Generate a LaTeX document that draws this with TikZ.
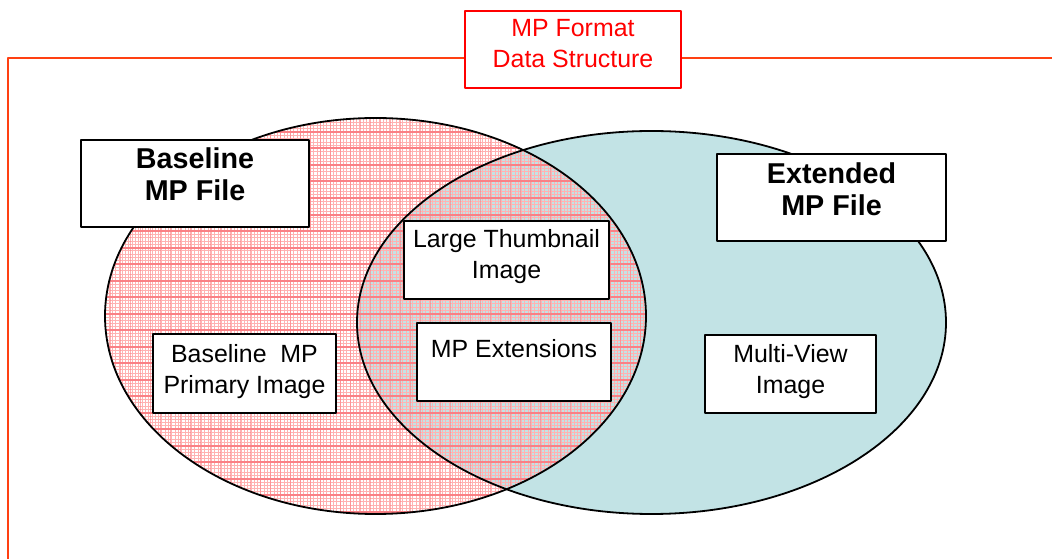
\documentclass[tikz,border=0pt]{standalone}
\usepackage{fontspec}
\setmainfont{Liberation Sans}
\usepackage{xcolor}
\usepackage{tikz}
\definecolor{ffqqqq}{rgb}{1.,0.,0.}
\definecolor{ffdrqq}{rgb}{1.,0.25,0.07}
\definecolor{ccebee}{rgb}{0.76,0.89,0.9}
\definecolor{ffbbbb}{rgb}{1.,0.7,0.7}
\definecolor{ff8080}{rgb}{0.98,0.5,0.52}
\tikzset{
  plaintxt/.style={font=\fontsize{12.5}{15.5}\selectfont, align=center, inner sep=0pt, anchor=north},
  boldtxt/.style={plaintxt, font=\bfseries\fontsize{14.4}{16}\selectfont},
  itembox/.style={draw=black, fill=white, line width=1bp},
}

\begin{document}
\begin{tikzpicture}[line cap=round,line join=round,x=0.5bp,y=-0.5bp]
\clip(0,0) rectangle (1052,559);
% outer frame and its title
\draw [line width=0.8bp,color=ffdrqq,line cap=butt] (8,570) -- (8,58) -- (1060,58);
\draw [line width=0.8bp,color=ffqqqq,fill=white] (465,11) rectangle (681,88);
\node [plaintxt,color=ffqqqq] (title) at (573,19) {MP Format\\Data Structure};
% the two sets
\fill [white] (375.5,316) ellipse [x radius=270.5, y radius=198];
\fill [ccebee] (651.5,322.5) ellipse [x radius=294.5, y radius=191.5];
\begin{scope}
\clip (375.5,316) ellipse [x radius=270.5, y radius=198];
\draw [line width=0.3bp,color=ffbbbb] (100,521) grid [xstep=1.65bp,ystep=1.65bp] (650,110);
\draw [line width=0.5bp,color=ff8080,opacity=0.6] (100,521) grid [xstep=5bp,ystep=500bp] (650,110);
\draw [line width=1bp,color=ff8080] (100,521) grid [xstep=500bp,ystep=8.25bp] (650,110);
\end{scope}
\draw [line width=0.9bp] (375.5,316) ellipse [x radius=270.5, y radius=198];
\draw [line width=0.9bp] (651.5,322.5) ellipse [x radius=294.5, y radius=191.5];
% labels of the sets
\draw [itembox] (81,140) rectangle (309,227);
\node [boldtxt] (basefile) at (195,147) {Baseline\\MP File};
\draw [itembox] (717,154) rectangle (946,241);
\node [boldtxt] (extfile) at (831.5,162) {Extended\\MP File};
% members
\draw [itembox] (404,221) rectangle (609,299);
\node [plaintxt] (thumb) at (506.5,229) {Large Thumbnail\\Image};
\draw [itembox] (417,323) rectangle (611,401);
\node [plaintxt] (ext) at (514,339) {MP Extensions};
\draw [itembox] (153,334) rectangle (336,413);
\node [plaintxt] (primary) at (244.5,344) {Baseline\ \ MP\\Primary Image};
\draw [itembox] (705,335) rectangle (876,413);
\node [plaintxt] (multiview) at (790.5,344) {Multi-View\\Image};
\end{tikzpicture}
\end{document}
